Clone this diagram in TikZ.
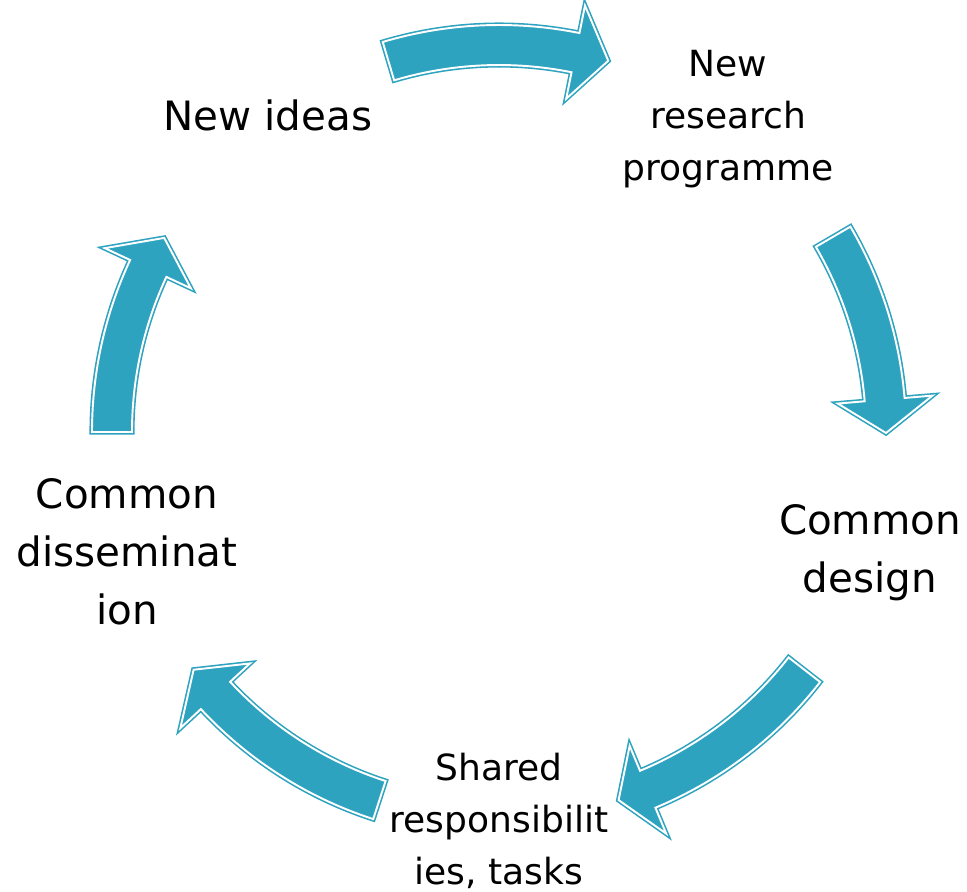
\documentclass[tikz,border=0pt]{standalone}
\usepackage{fontspec}
\setmainfont{DejaVu Sans}
\definecolor{cycleteal}{RGB}{46,163,191}
\tikzset{
  cyclearrow/.style={fill=cycleteal, draw=cycleteal, line width=0.9pt, double=white, double distance=1.1pt},
  bigtext/.style={align=center, font=\fontsize{23}{33}\selectfont},
  smalltext/.style={align=center, inner sep=1pt, font=\fontsize{20.5}{29.5}\selectfont}
}

\begin{document}
\begin{tikzpicture}[x=0.02cm, y=0.02cm]

\useasboundingbox (0,0) rectangle (967,-892);
\coordinate (c) at (499,-432);  % centre of the cycle

\node[bigtext] (ideas) at (268,-115) {New ideas};
\node[smalltext] (programme) at (728,-119) {New\\research\\programme};
\node[bigtext] (design) at (870,-553) {Common\\design};
\node[smalltext] (tasks) at (499,-821) {Shared\\responsibilit\\ies, tasks};
\node[bigtext] (dissem) at (127,-552) {Common\\disseminat\\ion};

% arrows round the cycle
\draw[cyclearrow] ([shift={(c)}]106.6:407) arc[start angle=106.6, end angle=78.6, radius=407]
  -- ([shift={(c)}]78.6:435) -- ([shift={(c)}]73.6:387) -- ([shift={(c)}]78.6:340)
  -- ([shift={(c)}]78.6:367) arc[start angle=78.6, end angle=106.6, radius=367] -- cycle;  % ideas to programme

\draw[cyclearrow] ([shift={(c)}]30.3:407) arc[start angle=30.3, end angle=4.8, radius=407]
  -- ([shift={(c)}]4.8:435) -- ([shift={(c)}]-0.15:387) -- ([shift={(c)}]4.8:340)
  -- ([shift={(c)}]4.8:367) arc[start angle=4.8, end angle=30.3, radius=367] -- cycle;  % programme to design

\draw[cyclearrow] ([shift={(c)}]-37.9:407) arc[start angle=-37.9, end angle=-67.4, radius=407]
  -- ([shift={(c)}]-67.4:435) -- ([shift={(c)}]-72:387) -- ([shift={(c)}]-67.4:340)
  -- ([shift={(c)}]-67.4:367) arc[start angle=-67.4, end angle=-37.9, radius=367] -- cycle;  % design to tasks

\draw[cyclearrow] ([shift={(c)}]-108:407) arc[start angle=-108, end angle=-137.1, radius=407]
  -- ([shift={(c)}]-137.1:435) -- ([shift={(c)}]-142.1:387) -- ([shift={(c)}]-137.1:340)
  -- ([shift={(c)}]-137.1:367) arc[start angle=-137.1, end angle=-108, radius=367] -- cycle;  % tasks to dissem

\draw[cyclearrow] ([shift={(c)}]180:407) arc[start angle=180, end angle=155, radius=407]
  -- ([shift={(c)}]155:435) -- ([shift={(c)}]149.9:387) -- ([shift={(c)}]155:340)
  -- ([shift={(c)}]155:367) arc[start angle=155, end angle=180, radius=367] -- cycle;  % dissem to ideas

\end{tikzpicture}
\end{document}
